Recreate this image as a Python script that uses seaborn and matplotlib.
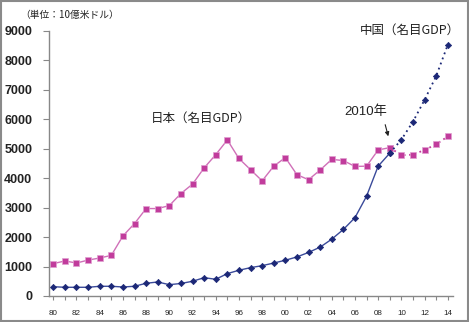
import matplotlib
matplotlib.use("Agg")
import matplotlib.pyplot as plt
import seaborn as sns
import pandas as pd
from matplotlib.patches import Rectangle, FancyArrowPatch

# ---- data (billion USD, nominal GDP) ----
years = list(range(1980, 2015))
japan = [1100, 1190, 1120, 1220, 1290, 1380, 2040, 2460, 2970, 2970,
         3070, 3480, 3800, 4350, 4800, 5300, 4670, 4290, 3910, 4410,
         4700, 4120, 3950, 4280, 4640, 4600, 4400, 4410, 4960, 5040,
         4780, 4800, 4960, 5150, 5420]
china = [316, 296, 296, 296, 330, 330, 306, 330, 432, 476,
         385, 425, 500, 622, 568, 760, 874, 963, 1030, 1120,
         1214, 1327, 1480, 1660, 1930, 2260, 2660, 3390, 4410, 4850,
         5310, 5920, 6660, 7470, 8530]
actual_until = 2009
yticks = [0, 1000, 2000, 3000, 4000, 5000, 6000, 7000, 8000, 9000]
xtick_years = list(range(1980, 2015, 2))
xtick_labels = [f"{y % 100:02d}" for y in xtick_years]

unit_label = "（単位：10億米ドル）"
japan_label = "日本（名目GDP）"
china_label = "中国（名目GDP）"
arrow_label = "2010年"

JP_COLOR = "#C13C9C"
JP_LINE = "#D070B8"
CN_COLOR = "#1C2877"
CN_LINE = "#3A4A9A"

sns.set_theme(style="white")
plt.rcParams["font.family"] = ["Liberation Sans", "Noto Sans CJK JP", "DejaVu Sans"]

W, H = 469, 322
fig = plt.figure(figsize=(W / 100, H / 100), dpi=100)
ax = fig.add_axes([49 / W, (H - 296) / H, (453 - 49) / W, (296 - 31) / H])

df = pd.DataFrame({"year": years, "japan": japan, "china": china})
act = df[df.year <= actual_until]
fc = df[df.year >= actual_until]

sns.lineplot(data=act, x="year", y="japan", ax=ax, color=JP_LINE, lw=1.0,
             marker="s", markersize=4.0, markerfacecolor=JP_COLOR,
             markeredgecolor="#E0A0D0", markeredgewidth=0.5)
sns.lineplot(data=fc, x="year", y="japan", ax=ax, color=JP_COLOR, lw=1.3,
             linestyle=(0, (1, 2.0)), marker="s", markersize=4.0,
             markerfacecolor=JP_COLOR, markeredgecolor="#E0A0D0",
             markeredgewidth=0.5)
sns.lineplot(data=act, x="year", y="china", ax=ax, color=CN_LINE, lw=1.0,
             marker="D", markersize=3.2, markerfacecolor=CN_COLOR,
             markeredgecolor=CN_COLOR, markeredgewidth=0.5)
sns.lineplot(data=fc, x="year", y="china", ax=ax, color=CN_COLOR, lw=1.3,
             linestyle=(0, (1, 2.0)), marker="D", markersize=3.2,
             markerfacecolor=CN_COLOR, markeredgecolor=CN_COLOR,
             markeredgewidth=0.5)

ax.set_xlim(1979.63, 2014.45)
ax.set_ylim(0, 9000)
ax.set_xlabel("")
ax.set_ylabel("")
ax.set_yticks(yticks)
ax.set_yticklabels([str(v) for v in yticks], fontsize=9, fontweight="bold",
                   color="#222222")
ax.set_xticks(years, minor=True)
ax.set_xticks(xtick_years)
ax.set_xticklabels(xtick_labels, fontsize=5.8, color="#222222")
ax.tick_params(axis="y", which="major", direction="out", length=4, width=0.8,
               color="#888888", pad=8, left=True)
ax.tick_params(axis="x", which="both", direction="out", length=3, width=0.8,
               color="#888888", pad=7, bottom=True)
for s in ["top", "right"]:
    ax.spines[s].set_visible(False)
for s in ["left", "bottom"]:
    ax.spines[s].set_color("#888888")
    ax.spines[s].set_linewidth(1.0)
ax.grid(False)

def fx(px):
    return px / W

def fy(py):
    return 1 - py / H

fig.text(fx(20), fy(15), unit_label, fontsize=7, ha="left", va="center",
         color="#222222", family=["Noto Sans CJK JP", "DejaVu Sans"])
fig.text(fx(151), fy(118), japan_label, fontsize=9, ha="left", va="center",
         color="#222222", family=["Noto Sans CJK JP", "DejaVu Sans"])
fig.text(fx(360), fy(30), china_label, fontsize=9, ha="left", va="center",
         color="#222222", family=["Noto Sans CJK JP", "DejaVu Sans"])
fig.text(fx(344), fy(112), arrow_label, fontsize=9.5, ha="left", va="center",
         color="#222222", family=["Liberation Sans", "Noto Sans CJK JP"])
fig.add_artist(FancyArrowPatch(
    (fx(384.5), fy(122)), (fx(389), fy(139)), transform=fig.transFigure,
    arrowstyle="-|>", mutation_scale=6, lw=0.8, color="#222222"))

fig.add_artist(Rectangle((0.002, 0.003), 0.995, 0.993, transform=fig.transFigure,
                         fill=False, edgecolor="#8a8a8a", lw=1.5))

fig.savefig("out.png", dpi=100)
